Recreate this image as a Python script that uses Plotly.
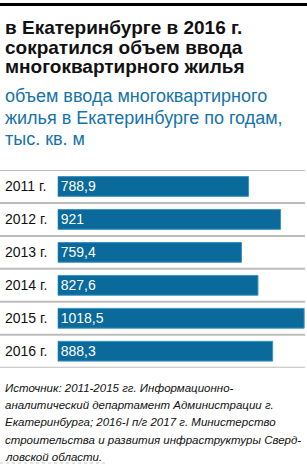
import plotly.graph_objects as go

years = ["2011 г.", "2012 г.", "2013 г.", "2014 г.", "2015 г.", "2016 г."]
values = [788.9, 921, 759.4, 827.6, 1018.5, 888.3]
value_labels = ["788,9", "921", "759,4", "827,6", "1018,5", "888,3"]

title_lines = ["в Екатеринбурге в 2016 г.", "сократился объем ввода", "многоквартирного жилья"]
subtitle_lines = ["объем ввода многоквартирного", "жилья в Екатеринбурге по годам,", "тыс. кв. м"]
source_lines = [
    "Источник: 2011-2015 гг. Информационно-",
    "аналитический департамент Администрации г.",
    "Екатеринбурга; 2016-I п/г 2017 г. Министерство",
    "строительства и развития инфраструктуры Сверд-",
    "ловской области.",
]

W, H = 307, 465
BAR_COLOR = "#0a6a9b"
BLUE_TEXT = "#1673a8"
FONT = "Liberation Sans"


def py(px):
    return 1 - px / H


fig = go.Figure()
fig.add_trace(go.Bar(
    y=years, x=values, orientation="h",
    marker=dict(color=BAR_COLOR, line=dict(color="#3d93c2", width=1)),
    width=0.6,
    text=value_labels, textposition="inside", insidetextanchor="start",
    constraintext="none",
    textfont=dict(color="white", size=14, family=FONT),
    cliponaxis=False,
    hoverinfo="skip",
))

annotations = []
for i, t in enumerate(title_lines):
    annotations.append(dict(text="<b>" + t + "</b>", x=3 / W, y=py(27 + 20 * i),
                            xref="paper", yref="paper", xanchor="left", yanchor="middle",
                            showarrow=False, font=dict(size=19, color="#111111", family=FONT)))
for i, t in enumerate(subtitle_lines):
    annotations.append(dict(text=t, x=3 / W, y=py(96 + 21.5 * i),
                            xref="paper", yref="paper", xanchor="left", yanchor="middle",
                            showarrow=False, font=dict(size=18, color=BLUE_TEXT, family=FONT)))
for i, t in enumerate(source_lines):
    annotations.append(dict(text="<i>" + t + "</i>", x=3 / W, y=py(388 + 17.2 * i),
                            xref="paper", yref="paper", xanchor="left", yanchor="middle",
                            showarrow=False, font=dict(size=11.5, color="#111111", family=FONT)))
for y in years:
    annotations.append(dict(text=y, x=3 / W, y=y, xref="paper", yref="y",
                            xanchor="left", yanchor="middle", showarrow=False,
                            font=dict(size=14, color="#111111", family=FONT)))

shapes = [dict(type="line", xref="paper", yref="paper", x0=0, x1=1, y0=py(4.5), y1=py(4.5),
               line=dict(color="black", width=3))]
for k in range(len(years) + 1):
    shapes.append(dict(type="line", xref="paper", yref="y", x0=0, x1=305 / W,
                       y0=k - 0.5, y1=k - 0.5, line=dict(color="#bcbcbc", width=2), layer="below"))
shapes.append(dict(type="line", xref="paper", yref="paper", x0=0, x1=105 / W,
                   y0=py(463), y1=py(463), line=dict(color="#c8c8c8", width=1, dash="dot")))

fig.update_layout(
    width=W, height=H, margin=dict(l=0, r=0, t=0, b=0),
    paper_bgcolor="white", plot_bgcolor="white",
    showlegend=False, bargap=0.4,
    xaxis=dict(domain=[57.7 / W, 305 / W], range=[0, 1022], visible=False, fixedrange=True),
    yaxis=dict(domain=[py(367.7), py(170)], range=[len(years) - 0.5, -0.5],
               type="category", visible=False, fixedrange=True),
    annotations=annotations, shapes=shapes,
    font=dict(family=FONT),
)

fig.write_html("out.html", config={"displayModeBar": False})
